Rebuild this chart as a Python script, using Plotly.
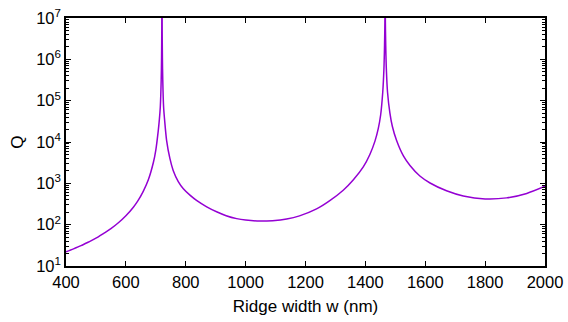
import plotly.graph_objects as go

# Ridge width w (nm) and quality factor Q
ridge_width_nm = [
    400, 425, 450, 475, 500, 525, 550, 575, 600, 625, 640, 658, 675, 692,
    700, 708, 711.8, 715, 718, 719.2, 719.9, 720.6, 721.3, 722, 723.2, 726,
    729.4, 736, 747, 758, 775, 792, 815, 836, 870, 903, 935, 970, 1000, 1048,
    1090, 1137, 1180, 1237, 1280, 1326, 1360, 1393, 1415, 1432, 1443, 1451,
    1458, 1462, 1464, 1465.2, 1466, 1466.8, 1468, 1470, 1474, 1482, 1490, 1504,
    1527, 1549, 1582, 1616, 1671, 1727, 1800, 1872, 1939, 2000,
]
quality_factor = [
    22, 26, 31, 38, 47, 61, 80, 111, 164, 265, 376, 640, 1220, 3240,
    6400, 18400, 34800, 70000, 3.2e5, 1.1e6, 4.5e6, 1.0e8, 4.5e6, 1.1e6, 3.2e5, 70000,
    34000, 11000, 4000, 2050, 1100, 740, 510, 385, 270, 205, 165, 140, 129, 122,
    125, 137, 163, 240, 375, 680, 1220, 2500, 5000, 10500, 21000, 45000,
    1.6e5, 6.0e5, 2.2e6, 8.0e6, 1.0e8, 8.0e6, 2.2e6, 6.0e5, 1.6e5, 50000, 24000, 11000,
    4600, 2700, 1500, 1020, 660, 495, 420, 445, 570, 850,
]

x_ticks = [400, 600, 800, 1000, 1200, 1400, 1600, 1800, 2000]
y_ticks = [1e1, 1e2, 1e3, 1e4, 1e5, 1e6, 1e7]
y_tick_text = ["10<sup>1</sup>", "10<sup>2</sup>", "10<sup>3</sup>", "10<sup>4</sup>",
               "10<sup>5</sup>", "10<sup>6</sup>", "10<sup>7</sup>"]
y_minor = [m * 10 ** e for e in range(1, 7) for m in range(2, 10)]

fig = go.Figure()
fig.add_trace(go.Scatter(
    x=ridge_width_nm, y=quality_factor, mode="lines",
    line=dict(color="#9400D3", width=1.5, shape="spline", smoothing=0.8),
    showlegend=False, cliponaxis=True,
))

font = dict(family="Liberation Sans, Arial, sans-serif", size=16.5, color="black")

fig.update_layout(
    width=568, height=322,
    margin=dict(l=66, r=23, t=18, b=56),
    paper_bgcolor="white", plot_bgcolor="white",
    font=font,
    xaxis=dict(
        range=[400, 2000], tickvals=x_ticks, ticks="inside", ticklen=5,
        tickwidth=1, tickcolor="black", showline=True, linecolor="black",
        linewidth=1.5, mirror="ticks", showgrid=False, zeroline=False,
        automargin=False,
        title=dict(text="Ridge width w (nm)", font=dict(size=17), standoff=11),
        tickfont=font,
    ),
    yaxis=dict(
        type="log", range=[1, 7], tickvals=y_ticks, ticktext=y_tick_text,
        ticks="inside", ticklen=5, tickwidth=1, tickcolor="black",
        showline=True, linecolor="black", linewidth=1.5, mirror="ticks",
        showgrid=False, zeroline=False, automargin=False,
        minor=dict(tickvals=y_minor, ticks="inside", ticklen=3, tickwidth=1,
                   tickcolor="black", showgrid=False),
        title=dict(text="Q", font=dict(size=17), standoff=8),
        tickfont=font,
    ),
)

fig.write_html("out.html")
